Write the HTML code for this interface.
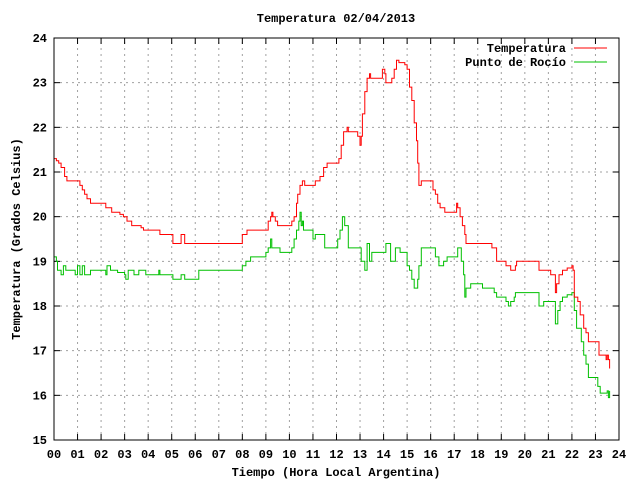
<!DOCTYPE html>
<html><head><meta charset="utf-8"><style>
body{margin:0;background:#fff}
svg text{font-family:"Liberation Mono",monospace;font-weight:bold;font-size:12px;fill:#000}
</style></head><body>
<svg id="chart" width="640" height="480" xmlns="http://www.w3.org/2000/svg">
<rect width="640" height="480" fill="#fff"/>
<g id="grid"></g>
<g id="ticks"></g>
<g id="series"></g>
<rect x="54" y="38" width="565" height="402" fill="none" stroke="#000" stroke-width="1"/>
<text x="336" y="22" text-anchor="middle">Temperatura 02/04/2013</text>
<text x="336" y="476" text-anchor="middle">Tiempo (Hora Local Argentina)</text>
<text transform="translate(20,239) rotate(-90)" text-anchor="middle">Temperatura (Grados Celsius)</text>
<g>
<text x="566" y="52" text-anchor="end">Temperatura</text>
<line x1="574" y1="48" x2="607" y2="48" stroke="#ff0000"/>
<text x="566" y="66" text-anchor="end">Punto de Rocío</text>
<line x1="574" y1="62" x2="607" y2="62" stroke="#00c000"/>
</g>
</svg>
<script>
const xTickLabels=["00","01","02","03","04","05","06","07","08","09","10","11","12","13","14","15","16","17","18","19","20","21","22","23","24"];
const yTickLabels=[15,16,17,18,19,20,21,22,23,24];
const tempHours=[0,0.1,0.2,0.3,0.45,0.55,1.0,1.1,1.2,1.3,1.4,1.55,2.2,2.25,2.45,2.65,2.8,2.95,3.1,3.3,3.6,3.7,3.8,4.5,5.05,5.4,5.45,5.55,8.0,8.05,8.2,8.3,9.0,9.1,9.2,9.25,9.3,9.4,9.5,10.1,10.2,10.3,10.35,10.45,10.55,10.65,10.75,11.05,11.1,11.3,11.45,11.6,12.0,12.1,12.2,12.3,12.45,12.5,12.9,13.0,13.05,13.1,13.2,13.3,13.4,13.45,13.9,13.95,14.05,14.1,14.3,14.35,14.45,14.55,14.65,14.9,15.0,15.1,15.2,15.3,15.4,15.45,15.5,15.6,16.0,16.1,16.2,16.3,16.4,16.6,17.05,17.1,17.15,17.25,17.35,17.45,17.5,18.5,18.6,18.8,19.1,19.2,19.4,19.6,19.65,20.4,20.6,21.1,21.3,21.35,21.45,21.6,21.8,22.0,22.05,22.1,22.25,22.35,22.5,22.6,22.7,23.05,23.15,23.4,23.45,23.5,23.55,23.6];
const tempValues=[21.3,21.25,21.2,21.1,20.9,20.8,20.8,20.7,20.6,20.5,20.4,20.3,20.2,20.2,20.1,20.1,20.05,20.0,19.9,19.8,19.8,19.75,19.7,19.6,19.4,19.6,19.6,19.4,19.6,19.6,19.7,19.7,19.7,19.9,20.0,20.1,20.0,19.9,19.8,19.9,20.0,20.3,20.5,20.7,20.8,20.7,20.7,20.7,20.8,20.9,21.1,21.2,21.2,21.3,21.6,21.9,22.0,21.9,21.8,21.6,21.8,22.3,22.8,23.1,23.2,23.1,23.1,23.3,23.2,23.0,23.0,23.1,23.3,23.5,23.45,23.4,23.3,22.9,22.6,22.1,21.7,21.2,20.7,20.8,20.8,20.6,20.5,20.3,20.2,20.1,20.1,20.3,20.2,20.0,19.8,19.6,19.4,19.4,19.3,19.0,19.0,18.9,18.8,18.9,19.0,19.0,18.8,18.7,18.3,18.5,18.7,18.8,18.85,18.9,18.8,18.2,18.1,17.8,17.5,17.4,17.2,17.2,16.9,16.9,16.8,16.9,16.8,16.6];
const dewHours=[0,0.1,0.15,0.3,0.4,0.5,0.9,1.0,1.1,1.2,1.3,1.55,2.2,2.25,2.3,2.4,2.7,3.0,3.05,3.15,3.4,3.6,3.9,4.45,4.5,5.05,5.4,5.55,6.15,8.0,8.05,8.15,8.35,9.0,9.1,9.2,9.25,9.3,9.6,10.1,10.2,10.3,10.4,10.45,10.5,10.55,10.6,10.7,11.0,11.1,11.5,12.05,12.15,12.25,12.35,12.5,13.05,13.2,13.3,13.4,13.5,14.1,14.3,14.5,14.7,15.0,15.1,15.2,15.3,15.45,15.5,15.6,16.2,16.35,16.55,16.7,17.15,17.3,17.4,17.45,17.5,17.7,18.2,18.7,18.8,19.2,19.3,19.4,19.55,19.6,20.6,20.8,21.1,21.3,21.4,21.5,21.6,21.8,22.0,22.1,22.2,22.4,22.5,22.6,22.7,23.1,23.2,23.5,23.55,23.6];
const dewValues=[19.1,19.0,18.8,18.7,18.9,18.8,18.7,18.9,18.7,18.9,18.7,18.8,18.7,18.9,18.9,18.8,18.75,18.7,18.6,18.8,18.7,18.8,18.7,18.8,18.7,18.6,18.7,18.6,18.8,18.9,18.9,19.0,19.1,19.2,19.3,19.5,19.3,19.3,19.2,19.3,19.5,19.7,19.9,20.1,19.8,19.9,19.7,19.7,19.5,19.6,19.3,19.5,19.7,20.0,19.8,19.3,19.0,18.8,19.4,19.0,19.2,19.4,19.0,19.3,19.2,18.9,18.8,18.6,18.4,18.6,18.9,19.3,19.1,18.9,19.0,19.1,19.3,19.0,18.7,18.2,18.4,18.5,18.4,18.3,18.2,18.1,18.0,18.1,18.2,18.3,18.0,18.1,18.1,17.6,17.9,18.1,18.2,18.25,18.3,17.9,17.5,17.2,16.9,16.7,16.4,16.2,16.05,16.1,15.95,16.1];
const X0=54,X1=619,Y0=440,Y1=38;
const xs=h=>X0+(X1-X0)*h/24;
const ys=v=>Y0-(Y0-Y1)*(v-15)/9;
const NS="http://www.w3.org/2000/svg";
const grid=document.getElementById('grid'),ticks=document.getElementById('ticks'),series=document.getElementById('series'),svg=document.getElementById('chart');
function mk(tag,attrs,parent){const e=document.createElementNS(NS,tag);for(const k in attrs)e.setAttribute(k,attrs[k]);parent.appendChild(e);return e;}
xTickLabels.forEach((lab,i)=>{
  const x=xs(i);
  if(i>0&&i<24){const g=mk('line',{x1:x,y1:Y0,x2:x,y2:Y1,stroke:'#a0a0a0','stroke-dasharray':'2,4'},grid);
  
  }
  const t1=mk('line',{x1:x,y1:Y0,x2:x,y2:Y0-6,stroke:'#000'},ticks);
  
  
  const t2=mk('line',{x1:x,y1:Y1,x2:x,y2:Y1+6,stroke:'#000'},ticks);
  
  
  const t=mk('text',{x:x,y:458,'text-anchor':'middle'},svg);
  t.textContent=lab;
  
  
});
yTickLabels.forEach(v=>{
  const y=ys(v);
  if(v>15&&v<24){const g=mk('line',{x1:X0,y1:y,x2:X1,y2:y,stroke:'#a0a0a0','stroke-dasharray':'2,4'},grid);
  
  }
  const t1=mk('line',{x1:X0,y1:y,x2:X0+6,y2:y,stroke:'#000'},ticks);
  
  
  const t2=mk('line',{x1:X1,y1:y,x2:X1-6,y2:y,stroke:'#000'},ticks);
  
  
  const t=mk('text',{x:47,y:y+4,'text-anchor':'end'},svg);
  t.textContent=v;
  
  
});
function stepPath(hs,vs){let d='M'+xs(hs[0]).toFixed(1)+','+ys(vs[0]).toFixed(1);
  for(let i=1;i<hs.length;i++){d+='H'+xs(hs[i]).toFixed(1)+'V'+ys(vs[i]).toFixed(1);}return d;}
const dew=mk('path',{d:stepPath(dewHours,dewValues),fill:'none',stroke:'#00c000','stroke-width':1},series);


const tmp=mk('path',{d:stepPath(tempHours,tempValues),fill:'none',stroke:'#ff0000','stroke-width':1},series);


</script>
</body></html>
